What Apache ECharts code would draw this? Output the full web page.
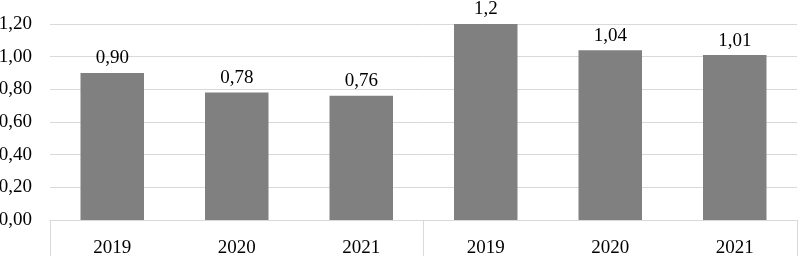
<!DOCTYPE html>
<html><head><meta charset="utf-8">
<script src="https://cdn.jsdelivr.net/npm/echarts@6/dist/echarts.min.js"></script>
<style>html,body{margin:0;padding:0;background:#fff}#c{width:798px;height:256px}</style>
</head><body><div id="c"></div>
<script>
const categories = ['2019','2020','2021','2019','2020','2021'];
const values = [0.90, 0.78, 0.76, 1.2, 1.04, 1.01];
const valueLabels = ['0,90','0,78','0,76','1,2','1,04','1,01'];
const groups = ['', ''];
const yTicks = [0, 0.2, 0.4, 0.6, 0.8, 1.0, 1.2];

const font = '"Liberation Serif", "Times New Roman", serif';
const chart = echarts.init(document.getElementById('c'));
chart.setOption({
  animation: false,
  textStyle: {fontFamily: font},
  grid: {left: 50, right: 1, top: 24, bottom: 36, containLabel: false, outerBoundsMode: 'none'},
  xAxis: [{
    type: 'category', data: categories, position: 'bottom',
    axisLine: {show: true, lineStyle: {color: '#d9d9d9', width: 1}},
    axisTick: {show: false},
    axisLabel: {fontFamily: font, fontSize: 19, color: '#000', margin: 19}
  }, {
    type: 'category', data: groups, position: 'bottom',
    axisLine: {show: false},
    axisTick: {show: true, length: 40, inside: false, lineStyle: {color: '#d9d9d9', width: 1}},
    axisLabel: {show: false}
  }],
  yAxis: {
    type: 'value', min: 0, max: 1.2, interval: 0.2,
    axisLine: {show: false}, axisTick: {show: false},
    splitLine: {lineStyle: {color: '#d9d9d9', width: 1}},
    axisLabel: {fontFamily: font, fontSize: 19, color: '#000', margin: 18,
      formatter: v => v.toFixed(2).replace('.', ',')}
  },
  series: [{
    type: 'bar', data: values, xAxisIndex: 0, barWidth: '51%',
    itemStyle: {color: '#808080'},
    label: {show: true, position: 'top', distance: 5, fontFamily: font, fontSize: 19, color: '#000',
      formatter: p => valueLabels[p.dataIndex]}
  }]
});
</script></body></html>
